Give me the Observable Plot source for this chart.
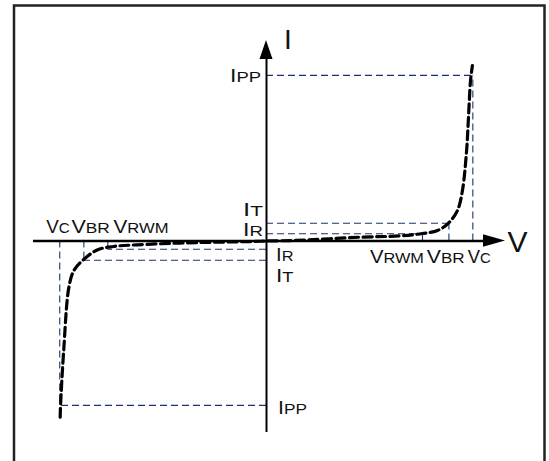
<!DOCTYPE html>
<html><head><meta charset="utf-8">
<script src="https://cdn.jsdelivr.net/npm/d3@7"></script>
<script src="https://cdn.jsdelivr.net/npm/@observablehq/plot@0.6"></script>
<style>html,body{margin:0;padding:0;background:#fff;overflow:hidden}</style>
</head><body><div id="chart"></div>
<script>
// I–V characteristic of a bidirectional TVS diode (schematic units)
const curveV = [-9.92, -9.9, -9.75, -9.5, -9.26, -8.78, -8.14, -7.36, -6.22, -3.8, -0.63, 0,
                1.3, 4.52, 6.44, 7.49, 8.22, 8.75, 9.18, 9.42, 9.62, 9.71, 9.81, 9.9];
const curveI = [-10.61, -9.87, -6.6, -2.78, -1.78, -1.1, -0.54, -0.33, -0.23, -0.11, -0.03, 0,
                0.03, 0.23, 0.31, 0.45, 0.63, 1.08, 1.84, 3.04, 5.45, 7.44, 9.67, 10.57];
// positive side: VRWM, VBR, VC and IR, IT, IPP
const vPos = [7.5, 8.77, 9.92];
const iPos = [0.44, 1.07, 9.98];
// negative side
const vNeg = [-7.63, -8.78, -9.94];
const iNeg = [-0.5, -1.16, -9.9];
const vNames = ["RWM", "BR", "C"];
const iNames = ["R", "T", "PP"];
const vAxis = [-11.2, 11.49];
const iAxis = [-11.54, 12.08];

const curve = curveV.map((v, k) => ({v, i: curveI[k]}));

const FONT = "'Liberation Sans', Arial, Helvetica, sans-serif";
const MAIN = 18, SUB = 14.5;

// label layout: pixel offsets from the anchor point and target widths
const labels = [
  // current labels, upper side (left of axis)
  {x: 0, y: iPos[2], main: "I", sub: iNames[2], dx: -36, dy: 7, w: 31},
  {x: 0, y: iPos[1], main: "I", sub: iNames[1], dx: -23, dy: -7, w: 20},
  {x: 0, y: iPos[0], main: "I", sub: iNames[0], dx: -23, dy: 2.5, w: 20},
  // current labels, lower side
  {x: 0, y: iNeg[0], main: "I", sub: iNames[0], dx: 10, dy: 12, w: 17.5},
  {x: 0, y: iNeg[1], main: "I", sub: iNames[1], dx: 10, dy: 22, w: 17.5},
  {x: 0, y: iNeg[2], main: "I", sub: iNames[2], dx: 12, dy: 9, w: 29},
  // voltage labels, negative side
  {x: vNeg[2], y: 0, main: "V", sub: vNames[2], dx: -13, dy: -7.3, w: 23.5},
  {x: vNeg[1], y: 0, main: "V", sub: vNames[1], dx: -12, dy: -7.3, w: 38.5},
  {x: vNeg[0], y: 0, main: "V", sub: vNames[0], dx: 6.3, dy: -7.3, w: 55},
  // voltage labels, positive side
  {x: vPos[0], y: 0, main: "V", sub: vNames[0], dx: -52, dy: 22.5, w: 54},
  {x: vPos[1], y: 0, main: "V", sub: vNames[1], dx: -21.7, dy: 22.5, w: 38},
  {x: vPos[2], y: 0, main: "V", sub: vNames[2], dx: -4.7, dy: 22.5, w: 23},
  // axis names
  {x: 0, y: iAxis[1], main: "I", sub: "", dx: 18, dy: 9, size: 28},
  {x: vAxis[1], y: 0, main: "V", sub: "", dx: 2.5, dy: 11.5, size: 30}
];

function richLabels(list) {
  return (index, scales) => {
    const g = d3.create("svg:g").attr("class", "rich-labels")
      .attr("font-family", FONT).attr("fill", "#111").attr("text-anchor", "start");
    for (const L of list) {
      const px = scales.x(L.x) + L.dx, py = scales.y(L.y) + L.dy;
      const t = g.append("text")
        .attr("text-anchor", "start")
        .attr("transform", `translate(${px},${py})`)
        .attr("data-px", px).attr("data-py", py)
        .attr("font-size", L.size || MAIN);
      if (L.w) t.attr("data-w", L.w);
      t.append("tspan").text(L.main);
      if (L.sub) t.append("tspan").attr("font-size", SUB).text(L.sub);
    }
    return g.node();
  };
}

function arrowHeads() {
  return (index, scales) => {
    const g = d3.create("svg:g").attr("fill", "#000");
    const ox = scales.x(0), ty = scales.y(iAxis[1]);
    g.append("path").attr("d", `M${ox},${ty}L${ox - 6.5},${ty + 19}L${ox + 6.5},${ty + 19}Z`);
    const tx = scales.x(vAxis[1]), oy = scales.y(0);
    g.append("path").attr("d", `M${tx},${oy}L${tx - 22},${oy - 6.3}L${tx - 22},${oy + 6.3}Z`);
    return g.node();
  };
}

const guide = {stroke: "#1a3370", strokeWidth: 1.1, strokeDasharray: "7,4"};

const chart = Plot.plot({
  width: 549,
  height: 461,
  margin: 0,
  x: {domain: [-266 / 20.8, 283 / 20.8], axis: null},
  y: {domain: [-220.5 / 16.6, 240.5 / 16.6], axis: null},
  style: {background: "#fff", overflow: "hidden"},
  marks: [
    Plot.frame({stroke: "#222", strokeWidth: 2.5, insetLeft: 13.5, insetTop: 5, insetRight: 5, insetBottom: -10}),
    // guide lines (positive side)
    Plot.ruleX(vPos, {x: d => d, y1: 0, y2: (d, k) => iPos[k], ...guide}),
    Plot.ruleY(iPos, {y: d => d, x1: 0, x2: (d, k) => vPos[k], ...guide}),
    // guide lines (negative side)
    Plot.ruleX(vNeg, {x: d => d, y1: 0, y2: (d, k) => iNeg[k], ...guide}),
    Plot.ruleY(iNeg, {y: d => d, x1: 0, x2: (d, k) => vNeg[k], ...guide}),
    // axes
    Plot.ruleY([0], {x1: vAxis[0], x2: vAxis[1] - 1, stroke: "#000", strokeWidth: 2.5}),
    Plot.ruleX([0], {y1: iAxis[0], y2: iAxis[1] - 0.5, stroke: "#000", strokeWidth: 2}),
    arrowHeads(),
    // characteristic curve
    Plot.line(curve, {x: "v", y: "i", curve: "catmull-rom", stroke: "#000", strokeWidth: 3.2, strokeDasharray: "9,4.5"}),
    richLabels(labels)
  ]
});
document.getElementById("chart").appendChild(chart);

// stretch labels horizontally to the widths seen in the reference
chart.querySelectorAll("g.rich-labels text[data-w]").forEach(node => {
  const len = node.getComputedTextLength();
  const w = +node.getAttribute("data-w");
  if (len > 0) {
    const s = w / len;
    node.setAttribute("transform", `translate(${node.getAttribute("data-px")},${node.getAttribute("data-py")}) scale(${s},1)`);
  }
});
</script>
</body></html>
